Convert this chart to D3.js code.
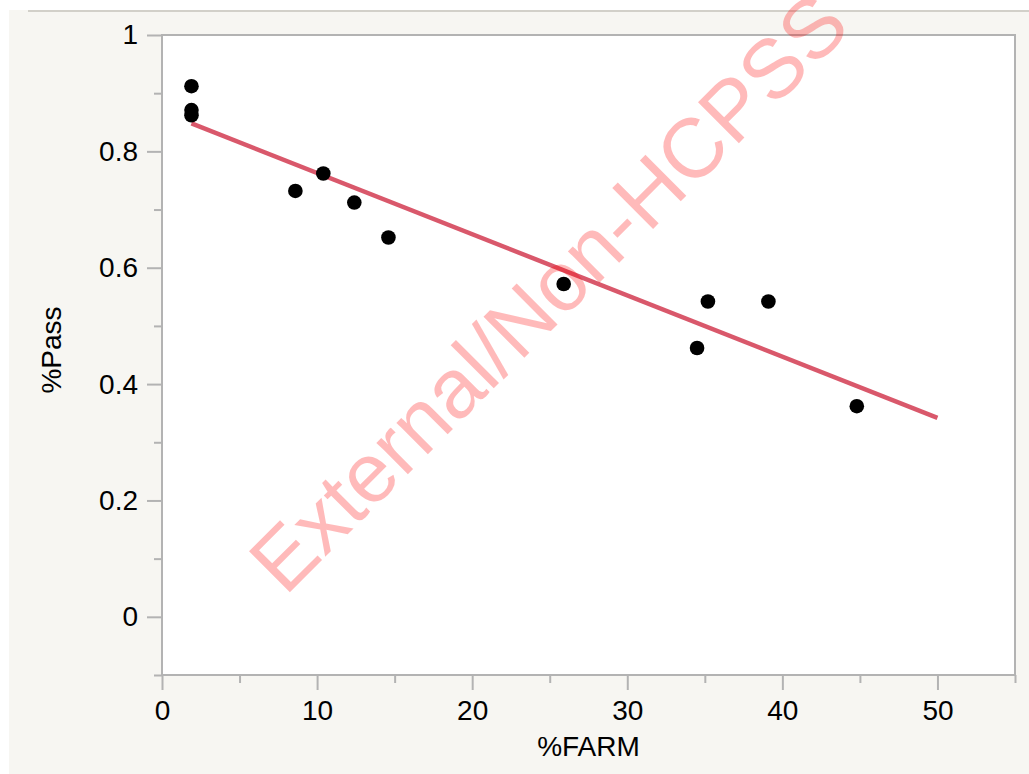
<!DOCTYPE html>
<html lang="en">
<head>
  <meta charset="UTF-8">
  <title>%Pass vs %FARM</title>
  <script src="https://d3js.org/d3.v7.min.js"></script>
  <style>
    body { margin: 0; background: #fff; }
    text { font-family: "Liberation Sans", Arial, Helvetica, sans-serif; }
  </style>
</head>
<body>
  <svg width="1029" height="774"></svg>
<script>
// data
var farm = [1.9, 1.9, 1.9, 8.6, 10.4, 12.4, 14.6, 25.9, 34.5, 35.2, 39.1, 44.8];
var pass = [0.912, 0.871, 0.862, 0.732, 0.762, 0.712, 0.652, 0.572, 0.462, 0.542, 0.542, 0.362];
// fitted line end points
var fitX = [1.9, 50];
var fitY = [0.848, 0.342];
var xTicks = [0, 10, 20, 30, 40, 50];
var xMinor = [5, 15, 25, 35, 45, 55];
var yTicks = [0, 0.2, 0.4, 0.6, 0.8, 1];
var yMinor = [-0.1, 0.1, 0.3, 0.5, 0.7, 0.9];

var svg = d3.select("svg");
var plotL = 162, plotR = 1015, plotT = 35, plotB = 675;
var axisColor = "#b3b3b3";

var xScale = d3.scaleLinear().domain([0, 55]).range([plotL, plotR]);
var yScale = d3.scaleLinear().domain([-0.1, 1]).range([plotB, plotT]);

// background panel
svg.append("rect")
  .attr("x", 9).attr("y", 10)
  .attr("width", 1020).attr("height", 764)
  .attr("fill", "#f7f6f2");
svg.append("line")
  .attr("x1", 28).attr("x2", 1029)
  .attr("y1", 11).attr("y2", 11)
  .attr("stroke", "#d2d0c9").attr("stroke-width", 2);

// plot frame
svg.append("rect")
  .attr("x", plotL).attr("y", plotT)
  .attr("width", plotR - plotL).attr("height", plotB - plotT)
  .attr("fill", "#fff")
  .attr("stroke", axisColor).attr("stroke-width", 2);

// x axis
var xAxis = d3.axisBottom(xScale).tickValues(xTicks).tickSize(15).tickSizeOuter(0).tickPadding(10);
var gx = svg.append("g").attr("transform", "translate(0," + plotB + ")").call(xAxis);
gx.select(".domain").remove();
var gxm = svg.append("g").attr("transform", "translate(0," + plotB + ")")
  .call(d3.axisBottom(xScale).tickValues(xMinor).tickSize(8).tickSizeOuter(0).tickFormat(""));
gxm.select(".domain").remove();

// y axis
var yAxis = d3.axisLeft(yScale).tickValues(yTicks).tickSize(15).tickSizeOuter(0).tickPadding(9)
  .tickFormat(function(d) { return d3.format("~g")(d); });
var gy = svg.append("g").attr("transform", "translate(" + plotL + ",0)").call(yAxis);
gy.select(".domain").remove();
var gym = svg.append("g").attr("transform", "translate(" + plotL + ",0)")
  .call(d3.axisLeft(yScale).tickValues(yMinor).tickSize(8).tickSizeOuter(0).tickFormat(""));
gym.select(".domain").remove();

svg.selectAll(".tick line").attr("stroke", axisColor).attr("stroke-width", 2);
svg.selectAll(".tick text").attr("font-size", "28px").attr("fill", "#000")
  .style("font-family", "Liberation Sans, Arial, sans-serif");

// axis titles
svg.append("text")
  .attr("x", (plotL + plotR) / 2).attr("y", 756)
  .attr("text-anchor", "middle")
  .attr("font-size", "28px")
  .text("%FARM");
svg.append("text")
  .attr("transform", "translate(61," + ((plotT + plotB) / 2 - 5) + ") rotate(-90)")
  .attr("text-anchor", "middle")
  .attr("font-size", "28px")
  .text("%Pass");

// fit line
var line = d3.line()
  .x(function(d, i) { return xScale(fitX[i]); })
  .y(function(d, i) { return yScale(fitY[i]); });
svg.append("path")
  .datum(fitX)
  .attr("fill", "none")
  .attr("stroke", "#d9586b")
  .attr("stroke-width", 4.5)
  .attr("d", line);

// points
svg.selectAll(".dot")
  .data(farm)
  .enter().append("circle")
  .attr("class", "dot")
  .attr("cx", function(d) { return xScale(d); })
  .attr("cy", function(d, i) { return yScale(pass[i]); })
  .attr("r", 7.3)
  .attr("fill", "#000");

// watermark
svg.append("text")
  .attr("transform", "translate(285,597) rotate(-45)")
  .attr("font-size", "84px")
  .attr("fill", "#ff0000")
  .attr("fill-opacity", 0.27)
  .text("External/Non-HCPSS");
</script>
</body>
</html>
